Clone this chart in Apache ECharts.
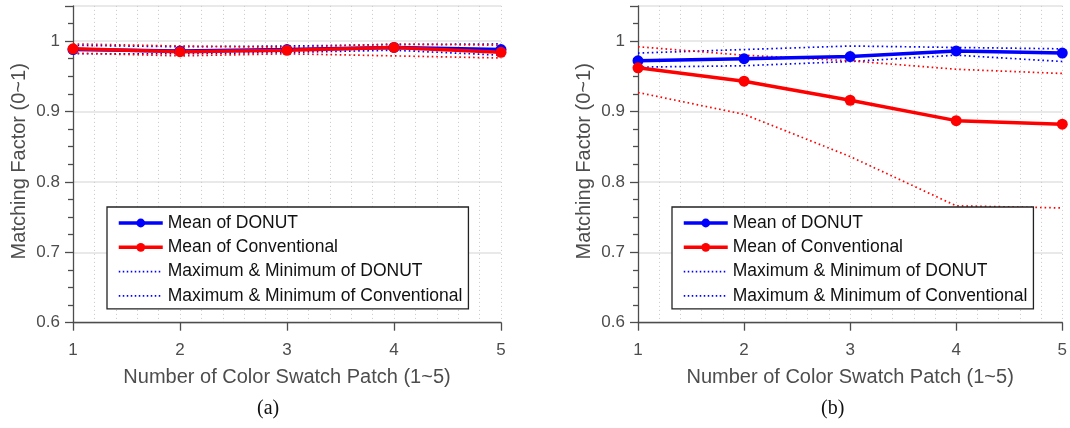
<!DOCTYPE html>
<html>
<head>
<meta charset="utf-8">
<script src="https://cdn.jsdelivr.net/npm/echarts@6/dist/echarts.min.js"></script>
<style>
  html, body { margin: 0; padding: 0; background: #fff; }
  #chart { width: 1070px; height: 428px; }
</style>
</head>
<body>
<div id="chart"></div>
<script>
// x values: number of colour swatch patches
const patches = [1, 2, 3, 4, 5]
const yTickLabels = { '0.6': '0.6', '0.7': '0.7', '0.8': '0.8', '0.9': '0.9', '1': '1' }

// panel (a)
const meanDonutA = [0.988, 0.986, 0.988, 0.991, 0.988]
const meanConvA = [0.989, 0.985, 0.987, 0.991, 0.984]
const maxDonutA = [0.994, 0.992, 0.993, 0.995, 0.996]
const minDonutA = [0.982, 0.982, 0.984, 0.987, 0.980]
const maxConvA = [0.996, 0.993, 0.991, 0.996, 0.994]
const minConvA = [0.983, 0.979, 0.982, 0.979, 0.976]

// panel (b)
const meanDonutB = [0.972, 0.975, 0.978, 0.986, 0.983]
const meanConvB = [0.962, 0.943, 0.916, 0.887, 0.882]
const maxDonutB = [0.983, 0.988, 0.993, 0.991, 0.989]
const minDonutB = [0.963, 0.965, 0.971, 0.980, 0.971]
const maxConvB = [0.992, 0.980, 0.972, 0.960, 0.954]
const minConvB = [0.927, 0.896, 0.836, 0.766, 0.763]

const names = {
  meanDonut: 'Mean of DONUT',
  meanConv: 'Mean of Conventional',
  rangeDonut: 'Maximum & Minimum of DONUT',
  rangeConv: 'Maximum & Minimum of Conventional',
}

const BLUE = '#0000ff'
const RED = '#ff0000'
const AXIS = '#4d4d4d'
const FONT = '"Liberation Sans", Arial, sans-serif'
const DOTS = [1.6, 3]

const pairs = (vals) => patches.map((x, i) => [x, vals[i]])

const meanSeries = (name, color, vals, idx) => ({
  name,
  type: 'line',
  xAxisIndex: idx,
  yAxisIndex: idx,
  data: pairs(vals),
  symbol: 'circle',
  symbolSize: 11,
  clip: false,
  itemStyle: { color },
  lineStyle: { color, width: 3.5 },
  z: 5,
})

const rangeSeries = (name, color, vals, idx) => ({
  name,
  type: 'line',
  xAxisIndex: idx,
  yAxisIndex: idx,
  data: pairs(vals),
  symbol: 'none',
  clip: false,
  itemStyle: { color },
  lineStyle: { color, width: 1.7, type: DOTS },
  z: 3,
})

const panelSeries = (idx, d) => [
  rangeSeries(names.rangeDonut, BLUE, d.maxDonut, idx),
  rangeSeries(names.rangeDonut, BLUE, d.minDonut, idx),
  rangeSeries(names.rangeConv, RED, d.maxConv, idx),
  rangeSeries(names.rangeConv, RED, d.minConv, idx),
  meanSeries(names.meanDonut, BLUE, d.meanDonut, idx),
  meanSeries(names.meanConv, RED, d.meanConv, idx),
]

const xAxisFor = (idx) => ({
  type: 'value',
  gridIndex: idx,
  min: 1,
  max: 5,
  interval: 1,
  name: 'Number of Color Swatch Patch (1~5)',
  nameLocation: 'middle',
  nameGap: 45,
  nameTextStyle: { color: AXIS, fontSize: 20, fontFamily: FONT },
  axisLine: { show: true, lineStyle: { color: AXIS, width: 1.3 } },
  axisTick: { show: true, inside: false, length: 8, lineStyle: { color: AXIS, width: 1.3 } },
  axisLabel: { color: AXIS, fontSize: 17, fontFamily: FONT, margin: 19 },
  splitLine: { show: true, lineStyle: { color: '#c8c8c8', width: 1, type: [1, 3] } },
  minorTick: { show: false, splitNumber: 5 },
  minorSplitLine: { show: true, lineStyle: { color: '#c8c8c8', width: 1, type: [1, 3] } },
})

const yAxisFor = (idx) => ({
  type: 'value',
  gridIndex: idx,
  min: 0.6,
  max: 1.05,
  interval: 0.1,
  name: 'Matching Factor (0~1)',
  nameLocation: 'middle',
  nameGap: 44,
  nameTextStyle: { color: AXIS, fontSize: 20, fontFamily: FONT, padding: [0, 0, 0, 6] },
  axisLine: { show: true, lineStyle: { color: AXIS, width: 1.3 } },
  axisTick: { show: true, inside: false, length: 8, lineStyle: { color: AXIS, width: 1.3 } },
  minorTick: { show: true, splitNumber: 4, length: 5, lineStyle: { color: AXIS, width: 1.3 } },
  axisLabel: {
    color: AXIS,
    fontSize: 17,
    fontFamily: FONT,
    margin: 13,
    showMaxLabel: false,
    formatter: (v) => yTickLabels[String(+v.toFixed(2))] || '',
  },
  splitLine: { show: true, lineStyle: { color: '#e2e2e2', width: 1.5 } },
  minorSplitLine: { show: false },
})

const legendFor = (left) => ({
  orient: 'vertical',
  left,
  top: 207,
  padding: [7, 6, 4, 10],
  itemWidth: 44,
  itemHeight: 11,
  itemGap: 6.3,
  backgroundColor: '#fff',
  borderColor: '#222',
  borderWidth: 1.3,
  borderRadius: 0,
  selectedMode: false,
  textStyle: { color: '#111', fontSize: 17.5, fontFamily: FONT, lineHeight: 17, padding: [0, 0, 0, 0] },
  data: [
    { name: names.meanDonut, lineStyle: { width: 3.5 } },
    { name: names.meanConv, lineStyle: { width: 3.5 } },
    { name: names.rangeDonut, itemStyle: { opacity: 0 }, lineStyle: { width: 1.7, type: [1.5, 2.5] } },
    // the reference draws this sample in blue as well
    { name: names.rangeConv, itemStyle: { opacity: 0, color: BLUE }, lineStyle: { color: BLUE, width: 1.7, type: [1.5, 2.5] } },
  ],
  z: 10,
})

const chart = echarts.init(document.getElementById('chart'), null, { renderer: 'canvas' })

chart.setOption({
  animation: false,
  backgroundColor: '#fff',
  grid: [
    { left: 73, right: 569, top: 5.9, bottom: 105.3 },
    { left: 638, right: 3.5, top: 5.9, bottom: 105.3 },
  ],
  xAxis: [xAxisFor(0), xAxisFor(1)],
  yAxis: [yAxisFor(0), yAxisFor(1)],
  legend: [legendFor(107), legendFor(672)],
  graphic: [
    { type: 'text', left: 257, top: 399, style: { text: '(a)', fill: '#111', font: '20px "Liberation Serif", "DejaVu Serif", serif' } },
    { type: 'text', left: 821, top: 399, style: { text: '(b)', fill: '#111', font: '20px "Liberation Serif", "DejaVu Serif", serif' } },
  ],
  series: [
    ...panelSeries(0, {
      meanDonut: meanDonutA, meanConv: meanConvA,
      maxDonut: maxDonutA, minDonut: minDonutA,
      maxConv: maxConvA, minConv: minConvA,
    }),
    ...panelSeries(1, {
      meanDonut: meanDonutB, meanConv: meanConvB,
      maxDonut: maxDonutB, minDonut: minDonutB,
      maxConv: maxConvB, minConv: minConvB,
    }),
  ],
})
</script>
</body>
</html>
